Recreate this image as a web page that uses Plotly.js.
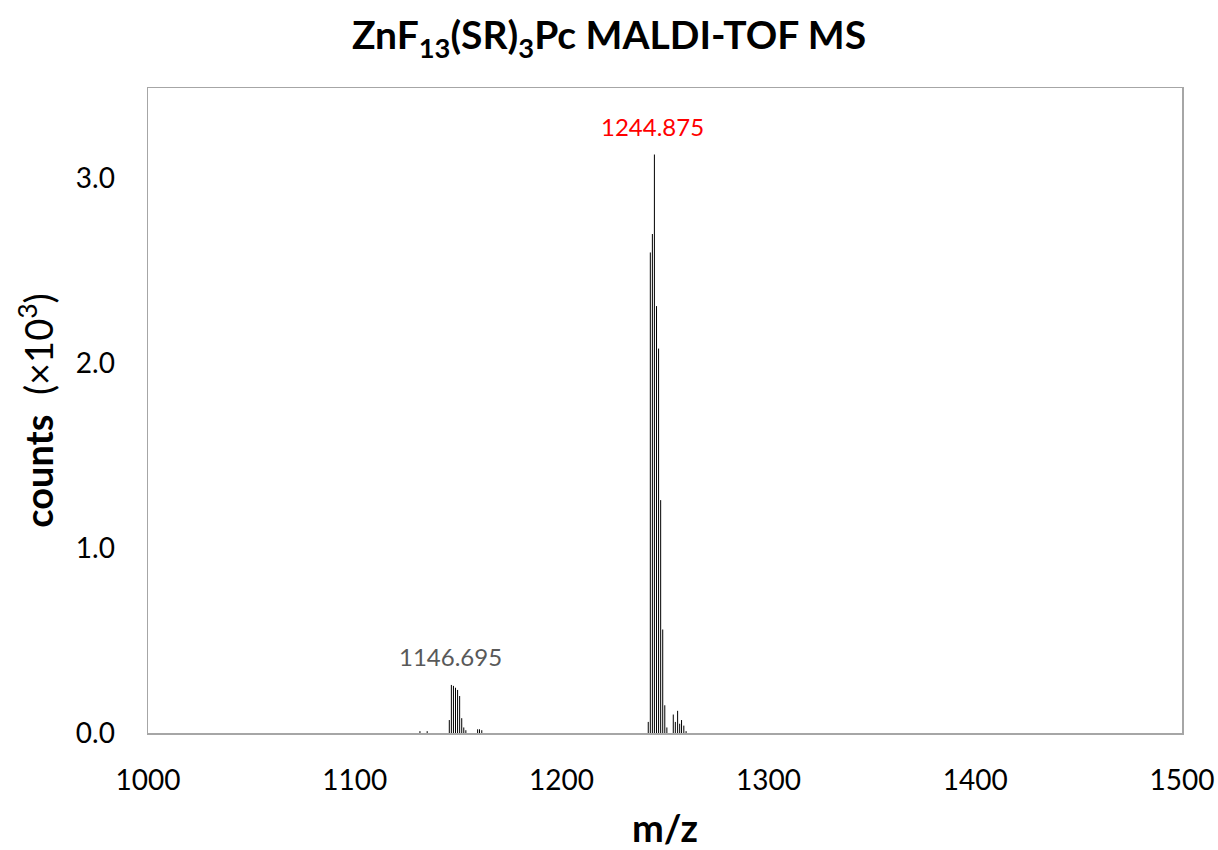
<!DOCTYPE html>
<html>
<head>
<meta charset="utf-8">
<script src="https://cdn.plot.ly/plotly-3.0.1.min.js"></script>
<style>html,body{margin:0;padding:0;background:#fff;}#chart{width:1218px;height:850px;}</style>
</head>
<body>
<div id="chart"></div>
<script>
// Peak list (m/z, counts in units of 10^3)
const mz = [1131.5, 1135.0, 1145.7, 1146.695, 1147.7, 1148.7, 1149.7, 1150.7, 1151.7, 1152.7, 1153.7,
            1159.4, 1160.3, 1161.4,
            1241.9, 1242.9, 1243.9, 1244.875, 1245.9, 1246.9, 1247.9, 1248.9, 1249.9, 1250.9,
            1254.0, 1255.0, 1256.1, 1257.1, 1258.0, 1259.1, 1260.2];
const counts = [0.01, 0.01, 0.07, 0.26, 0.255, 0.245, 0.233, 0.20, 0.08, 0.03, 0.015,
                0.02, 0.02, 0.015,
                0.06, 2.60, 2.70, 3.13, 2.31, 2.08, 1.26, 0.56, 0.15, 0.03,
                0.10, 0.06, 0.12, 0.05, 0.07, 0.04, 0.01];
const labelMz = [1244.875, 1146.695];
const labelText = ["1244.875", "1146.695"];
const labelCounts = [3.13, 0.26];
const labelColors = ["#ff0000", "#595959"];
const xTicks = [1000, 1100, 1200, 1300, 1400, 1500];
const yTicks = [0, 1, 2, 3];

// Build stick spectrum
const sx = [], sy = [];
for (let i = 0; i < mz.length; i++) {
  sx.push(mz[i], mz[i], null);
  sy.push(0, counts[i], null);
}

const font = "Lato, 'Open Sans', sans-serif";

const annotations = labelMz.map((m, i) => ({
  x: m, y: labelCounts[i], xref: 'x', yref: 'y',
  text: labelText[i], showarrow: false,
  yanchor: 'bottom', yshift: 12, xshift: i === 0 ? -2 : -1,
  font: {family: font, size: 24, color: labelColors[i]}
}));

const data = [{
  x: sx, y: sy, type: 'scatter', mode: 'lines',
  line: {color: '#000000', width: 1},
  hoverinfo: 'skip', showlegend: false
}];

const layout = {
  width: 1218, height: 850,
  margin: {l: 148, r: 36, t: 88, b: 117},
  paper_bgcolor: '#ffffff', plot_bgcolor: '#ffffff',
  font: {family: font, color: '#000000'},
  title: {
    text: '<b>ZnF<sub>13</sub>(SR)<sub>3</sub>Pc MALDI-TOF MS</b>',
    font: {family: font, size: 39, color: '#000000'},
    x: 0.5, xref: 'container', xanchor: 'center',
    y: 0.958, yref: 'container', yanchor: 'middle'
  },
  xaxis: {
    range: [1000, 1500], tickvals: xTicks, ticktext: xTicks.map(String),
    showgrid: false, zeroline: false, ticks: '', ticklabelstandoff: 22,
    showline: true, mirror: true, linecolor: '#a6a6a6', linewidth: 1.5,
    tickfont: {family: font, size: 28, color: '#000000'},
    title: {text: '<b>m/z</b>', font: {family: font, size: 38, color: '#000000'}, standoff: 20}
  },
  yaxis: {
    range: [0, 3.49], tickvals: yTicks, ticktext: yTicks.map(v => v.toFixed(1)),
    showgrid: false, zeroline: false, ticks: '', ticklabelstandoff: 26,
    showline: true, mirror: true, linecolor: '#a6a6a6', linewidth: 1.5,
    tickfont: {family: font, size: 28, color: '#000000'},
    title: {text: '<b>counts</b>  (×10<sup>3</sup>)', font: {family: font, size: 38, color: '#000000'}, standoff: 10}
  },
  annotations: annotations
};

Plotly.newPlot('chart', data, layout, {displayModeBar: false, staticPlot: true});
</script>
</body>
</html>
